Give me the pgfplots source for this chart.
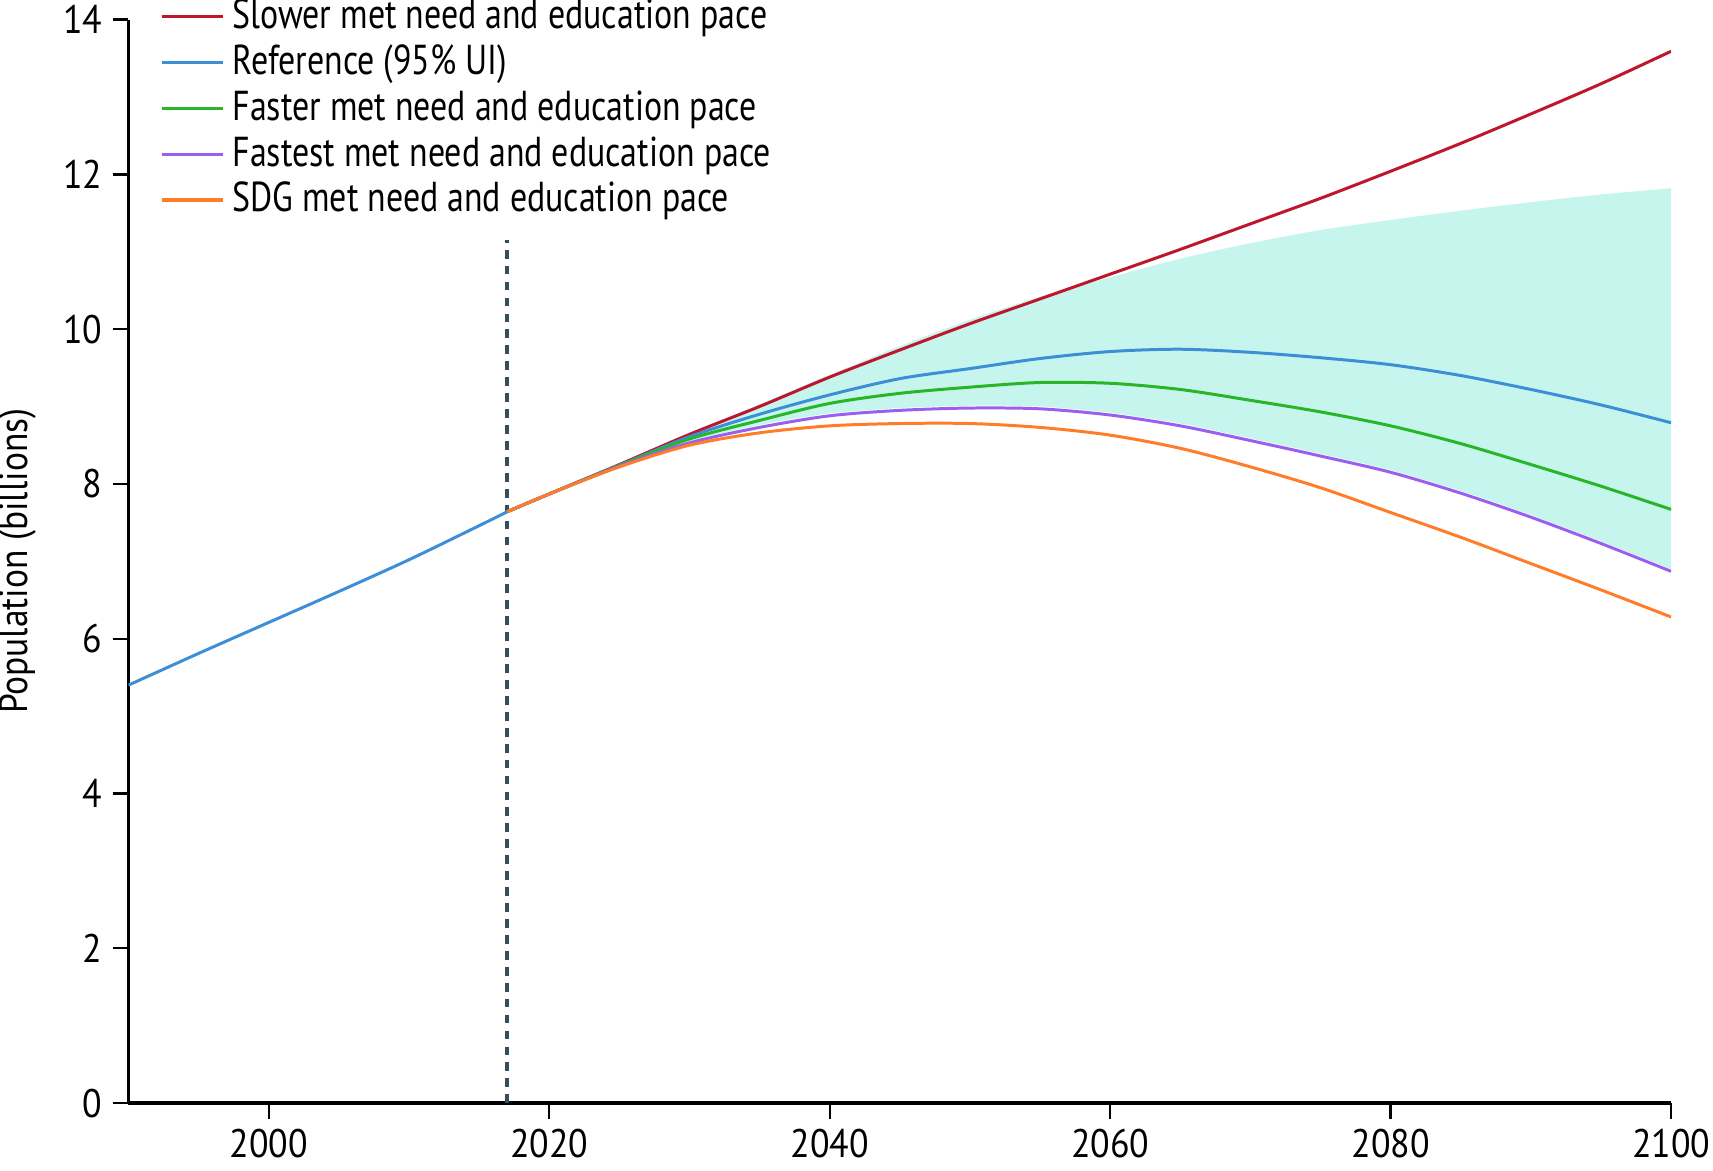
\documentclass[border=0pt]{standalone}
\usepackage{fontspec}
\setmainfont[FakeStretch=0.81]{PT Sans}
\newfontfamily\tickfont[FakeStretch=0.9]{PT Sans}
\newfontfamily\labelfont[FakeStretch=0.89]{PT Sans}
\usepackage{pgfplots}
\pgfplotsset{compat=1.18}
\usepgfplotslibrary{fillbetween}
\definecolor{cRed}{RGB}{190,22,44}
\definecolor{cBlue}{RGB}{60,143,214}
\definecolor{cGreen}{RGB}{40,182,40}
\definecolor{cPurple}{RGB}{155,95,240}
\definecolor{cOrange}{RGB}{255,125,40}
\definecolor{cBand}{RGB}{198,245,238}
\definecolor{cDash}{RGB}{50,80,92}
\begin{document}
\begin{tikzpicture}
\begin{axis}[
  scale only axis,
  width=387.25bp, height=272bp,
  xmin=1990, xmax=2100, ymin=0, ymax=14,
  axis lines=left,
  axis line style={-, line width=0.8bp, black},
  xtick={2000,2020,2040,2060,2080,2100},
  ytick={0,2,4,6,8,10,12,14},
  tick align=outside,
  tick style={line width=0.6bp, black},
  major tick length=4bp,
  /pgf/number format/1000 sep={},
  /pgf/number format/assume math mode=true,
  ticklabel style={font=\tickfont\fontsize{10bp}{12bp}\selectfont},
  xticklabel style={yshift=1bp},
  yticklabel style={xshift=1bp},
  ylabel={Population (billions)},
  ylabel style={font=\labelfont\fontsize{10bp}{12bp}\selectfont, at={(axis description cs:-0.0715,0.5)}, anchor=center},
  legend cell align=left,
  legend style={at={(axis description cs:0.02,1.022)}, anchor=north west, draw=none, fill=none,
    font=\fontsize{10.5bp}{11bp}\selectfont, inner sep=0pt, row sep=1.3bp,
    nodes={inner sep=0.6bp, text height=7.5bp, text depth=1.5bp}},
  legend image code/.code={\draw[#1, line width=0.8bp] (0bp,0bp) -- (15.5bp,0bp); \path (16.8bp,0bp);},
  every axis plot/.append style={line width=0.75bp},
]
% 95% UI band
\addplot[name path=bandtop, draw=none, forget plot, smooth] coordinates {
(2017,7.64) (2020,7.87) (2025,8.26) (2030,8.66) (2035,9.03) (2040,9.41) (2045,9.78) (2050,10.12)
(2055,10.42) (2060,10.67) (2065,10.91) (2070,11.11) (2075,11.28) (2080,11.41) (2085,11.53)
(2090,11.64) (2095,11.74) (2100,11.82)};
\addplot[name path=bandbot, draw=none, forget plot, smooth] coordinates {
(2017,7.64) (2020,7.87) (2025,8.24) (2030,8.55) (2035,8.76) (2040,8.91) (2045,8.98) (2050,9.01)
(2055,9.00) (2060,8.92) (2065,8.78) (2070,8.59) (2075,8.39) (2080,8.18) (2085,7.91)
(2090,7.60) (2095,7.26) (2100,6.90)};
\addplot[cBand, draw=none, forget plot] fill between[of=bandtop and bandbot];
% dashed 2017 line
\addplot[cDash, line width=0.9bp, dash pattern=on 2.2bp off 1.8bp, forget plot] coordinates {(2017,0) (2017,11.15)};
% history
\addplot[cBlue, forget plot, smooth] coordinates {
(1990,5.40) (1995,5.81) (2000,6.21) (2005,6.61) (2010,7.02) (2015,7.46) (2017,7.64)};
% scenarios
\addplot[cRed, smooth] coordinates {
(2017,7.64) (2020,7.87) (2025,8.25) (2030,8.64) (2035,9.00) (2040,9.38) (2045,9.73) (2050,10.07)
(2055,10.39) (2060,10.71) (2065,11.03) (2070,11.36) (2075,11.69) (2080,12.04) (2085,12.40)
(2090,12.78) (2095,13.17) (2100,13.59)};
\addlegendentry{Slower met need and education pace}
\addplot[cBlue, smooth] coordinates {
(2017,7.64) (2020,7.87) (2025,8.24) (2030,8.61) (2035,8.90) (2040,9.15) (2045,9.36) (2050,9.49)
(2055,9.62) (2060,9.71) (2065,9.74) (2070,9.70) (2075,9.63) (2080,9.54) (2085,9.40)
(2090,9.22) (2095,9.02) (2100,8.79)};
\addlegendentry{Reference (95\% UI)}
\addplot[cGreen, smooth] coordinates {
(2017,7.64) (2020,7.87) (2025,8.24) (2030,8.58) (2035,8.82) (2040,9.04) (2045,9.17) (2050,9.25)
(2055,9.31) (2060,9.30) (2065,9.22) (2070,9.08) (2075,8.93) (2080,8.75) (2085,8.52)
(2090,8.25) (2095,7.97) (2100,7.67)};
\addlegendentry{Faster met need and education pace}
\addplot[cPurple, smooth] coordinates {
(2017,7.64) (2020,7.87) (2025,8.23) (2030,8.53) (2035,8.73) (2040,8.88) (2045,8.95) (2050,8.98)
(2055,8.97) (2060,8.89) (2065,8.75) (2070,8.56) (2075,8.36) (2080,8.15) (2085,7.88)
(2090,7.57) (2095,7.23) (2100,6.87)};
\addlegendentry{Fastest met need and education pace}
\addplot[cOrange, smooth] coordinates {
(2017,7.64) (2020,7.87) (2025,8.22) (2030,8.50) (2035,8.66) (2040,8.75) (2045,8.78) (2050,8.78)
(2055,8.73) (2060,8.63) (2065,8.46) (2070,8.22) (2075,7.95) (2080,7.63) (2085,7.31)
(2090,6.97) (2095,6.63) (2100,6.28)};
\addlegendentry{SDG met need and education pace}
\end{axis}
\pgfresetboundingbox
\path[use as bounding box] ([shift={(-32.25bp,-17bp)}]current axis.south west) rectangle ([shift={(10.5bp,4.9bp)}]current axis.north east);
\end{tikzpicture}
\end{document}
